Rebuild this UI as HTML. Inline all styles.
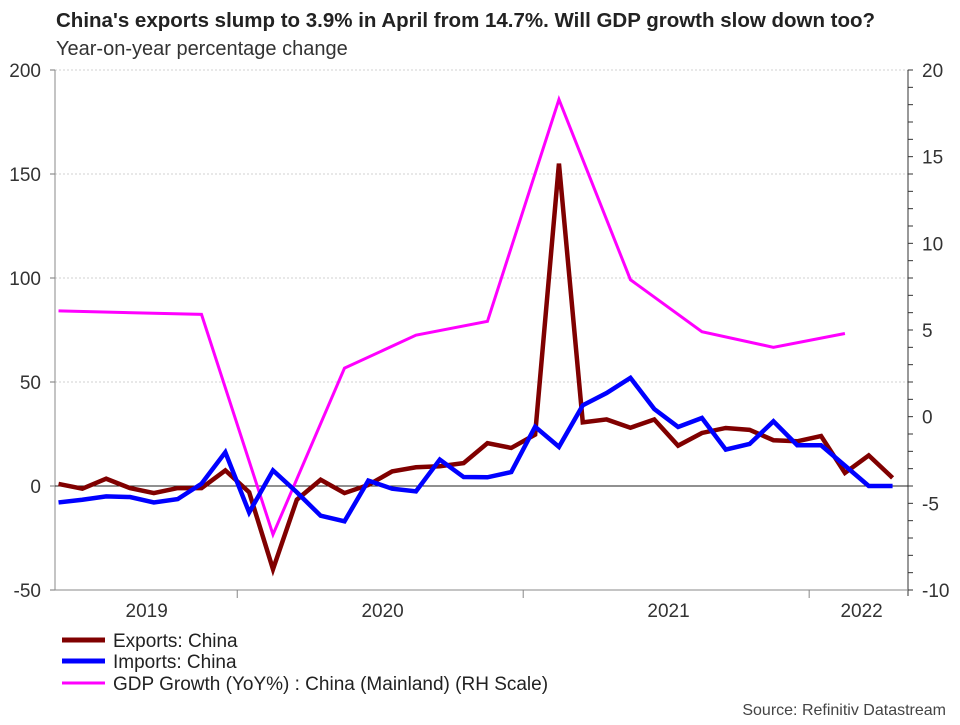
<!DOCTYPE html>
<html><head><meta charset="utf-8"><style>
body{margin:0;background:#fff;font-family:"Liberation Sans",sans-serif;}
svg text{font-family:"Liberation Sans",sans-serif;}
</style></head><body>
<svg width="960" height="720" xmlns="http://www.w3.org/2000/svg">
<text x="56" y="27" font-size="20.5" font-weight="bold" fill="#222">China's exports slump to 3.9% in April from 14.7%. Will GDP growth slow down too?</text>
<text x="56" y="55" font-size="20" fill="#333">Year-on-year percentage change</text>
<g id="grid"></g>
<g id="axes"></g>
<g id="series"></g>
<g>
<line x1="62" y1="640" x2="105" y2="640" stroke="#800000" stroke-width="5"/>
<text x="113" y="647" font-size="19" fill="#222">Exports: China</text>
<line x1="62" y1="661" x2="105" y2="661" stroke="#0000ff" stroke-width="5"/>
<text x="113" y="668" font-size="19" fill="#222">Imports: China</text>
<line x1="62" y1="683" x2="105" y2="683" stroke="#ff00ff" stroke-width="3"/>
<text x="113" y="690" font-size="19" fill="#222">GDP Growth (YoY%) : China (Mainland) (RH Scale)</text>
</g>
<text x="946" y="715" font-size="16" fill="#444" text-anchor="end">Source: Refinitiv Datastream</text>
</svg>
<script>
// month index 0 = Jan 2019
const exportMonths = [4,5,6,7,8,9,10,11,12,13,14,15,16,17,18,19,20,21,22,23,24,25,26,27,28,29,30,31,32,33,34,35,36,37,38,39];
const exportValues = [1,-1.3,3.5,-1,-3.4,-1,-1,7.5,-3,-40,-6.6,3,-3.4,0.5,7,9,9.5,11,20.6,18.3,24.7,155,30.6,32,28,32,19.4,25.5,27.9,27,22,21.5,24,6.3,14.7,3.9];
const importValues = [-7.9,-6.6,-5,-5.3,-7.9,-6.3,1.1,16.2,-12.7,7.5,-3,-14.3,-17,2.6,-1.3,-2.6,12.7,4.3,4.2,6.7,28.5,18.8,38.8,44.7,52,37,28.4,32.7,17.5,20.2,31.1,19.6,19.6,9.8,0,0];
const gdpMonths = [4,10,13,16,19,22,25,28,31,34,37];
const gdpValues = [6.1,5.9,-6.8,2.8,4.7,5.5,18.3,7.9,4.9,4.0,4.8];
const leftTicks = [-50,0,50,100,150,200];
const rightTicks = [-10,-5,0,5,10,15,20];
const yearLabels = ["2019","2020","2021","2022"];
const yearLabelMonths = [7.7,17.6,29.6,37.7];
const yearBoundaries = [11.5,23.5,35.5];

const NS="http://www.w3.org/2000/svg";
const X0=55,X1=908,Y0=70,Y1=590;
function xs(m){return -36.8+m*23.83;}
function yl(v){return Y1-(v+50)/250*(Y1-Y0);}
function yr(v){return Y1-(v+10)/30*(Y1-Y0);}
function mk(tag,attrs,parent){const e=document.createElementNS(NS,tag);for(const k in attrs)e.setAttribute(k,attrs[k]);parent.appendChild(e);return e;}
const grid=document.getElementById('grid'),axes=document.getElementById('axes'),series=document.getElementById('series');
leftTicks.forEach(v=>{
  const y=yl(v);
  if(v>0){const g=mk('line',{x1:X0,x2:X1,y1:y,y2:y,stroke:'#d0d0d0','stroke-dasharray':'2,2'},grid);
  
  }
  const t=mk('text',{x:41,y:y+7,'font-size':19,fill:'#333','text-anchor':'end'},axes);t.textContent=v;
  
  
  mk('line',{x1:X0-5,x2:X0,y1:y,y2:y,stroke:'#777'},axes);
});
for(let v=-10;v<=20;v++){const y=yr(v);mk('line',{x1:X1,x2:X1+5,y1:y,y2:y,stroke:'#333'},axes);}
rightTicks.forEach(v=>{const t=mk('text',{x:922,y:yr(v)+7,'font-size':19,fill:'#333'},axes);t.textContent=v;
  
  });
mk('line',{x1:X0,x2:X0,y1:Y0,y2:Y1,stroke:'#888'},axes);
mk('line',{x1:X1,x2:X1,y1:Y0,y2:Y1+6,stroke:'#333'},axes);
mk('line',{x1:X0,x2:X1,y1:Y1,y2:Y1,stroke:'#888'},axes);
const zl=mk('line',{x1:X0,x2:X1,y1:yl(0),y2:yl(0),stroke:'#222'},axes);


yearBoundaries.forEach(m=>mk('line',{x1:xs(m),x2:xs(m),y1:Y1,y2:Y1+8,stroke:'#888'},axes));
yearLabels.forEach((l,i)=>{const t=mk('text',{x:xs(yearLabelMonths[i]),y:617,'font-size':19,fill:'#333','text-anchor':'middle'},axes);t.textContent=l;
  
  });
function line(ms,vs,yf,color,w,name){
  const p=mk('polyline',{points:ms.map((m,i)=>xs(m)+','+yf(vs[i])).join(' '),fill:'none',stroke:color,'stroke-width':w,'stroke-linejoin':'miter'},series);
  
  
}
line(gdpMonths,gdpValues,yr,'#ff00ff',3,'gdp-line');
line(exportMonths,exportValues,yl,'#800000',4.5,'exports-line');
line(exportMonths,importValues,yl,'#0000ff',4.5,'imports-line');
</script>
</body></html>
